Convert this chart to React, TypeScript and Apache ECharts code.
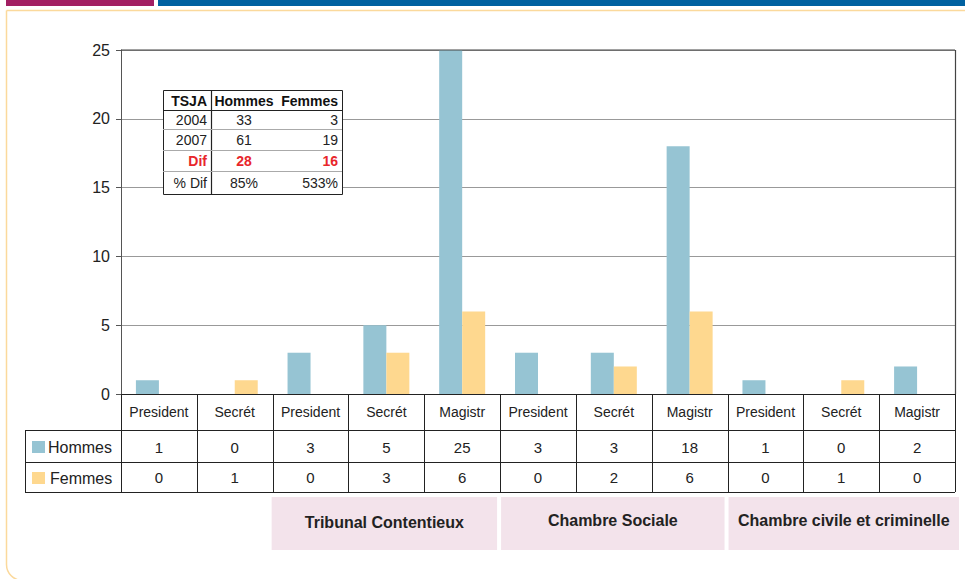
import React, { useEffect, useRef } from "react";
import * as echarts from "echarts";

const categories = ["President", "Secrét", "President", "Secrét", "Magistr", "President", "Secrét", "Magistr", "President", "Secrét", "Magistr"];
const hommes = [1, 0, 3, 5, 25, 3, 3, 18, 1, 0, 2];
const femmes = [0, 1, 0, 3, 6, 0, 2, 6, 0, 1, 0];
const seriesNames = ["Hommes", "Femmes"];
const yMax = 25;
const yInterval = 5;
const groupNames = ["Tribunal Contentieux", "Chambre Sociale", "Chambre civile et criminelle"];
const groupSpans = [[2, 4], [5, 7], [8, 10]];
const insetHeader = ["TSJA", "Hommes", "Femmes"];
const insetRows = [
  ["2004", "33", "3"],
  ["2007", "61", "19"],
  ["Dif", "28", "16"],
  ["% Dif", "85%", "533%"],
];

const BLUE = "#96C4D3";
const ORANGE = "#FED88F";
const FONT = "'Liberation Sans Narrow', 'Arial Narrow', 'Liberation Sans', Arial, sans-serif";
const W = 965;
const H = 579;
const GL = 121;
const GR = 955;
const GT = 50;
const GB = 394;

export default function App() {
  const ref = useRef<HTMLDivElement>(null);
  useEffect(() => {
    if (!ref.current) return;
    const chart = echarts.init(ref.current, null, { renderer: "svg", width: W, height: H });
    const n = categories.length;
    const step = (GR - GL) / n;
    const xb = (i: number) => GL + i * step;
    const row1B = 430;
    const row2B = 462;
    const row3B = 492;
    const legL = 25;
    const g: any[] = [];
    // top bands
    g.push({ type: "rect", shape: { x: 6, y: 0, width: 148, height: 6 }, style: { fill: "#A21F63" } });
    g.push({ type: "rect", shape: { x: 158, y: 0, width: W - 158, height: 6 }, style: { fill: "#0061A0" } });
    // orange frame
    g.push({ type: "rect", shape: { x: 6.5, y: 10.5, width: W + 20, height: 570, r: [0, 0, 0, 16] }, style: { fill: "none", stroke: "#FBD99C", lineWidth: 1.5 } });
    // top dark line at max + right border
    g.push({ type: "line", shape: { x1: GL, y1: GT, x2: GR, y2: GT }, style: { stroke: "#444", lineWidth: 1.2 }, z: 5 });
    g.push({ type: "line", shape: { x1: GR + 0.5, y1: GT, x2: GR + 0.5, y2: GB }, style: { stroke: "#444", lineWidth: 1.2 }, z: 5 });
    // table lines
    const ln = (x1: number, y1: number, x2: number, y2: number, c = "#222") =>
      g.push({ type: "line", shape: { x1, y1, x2, y2 }, style: { stroke: c, lineWidth: 1 }, z: 5 });
    for (let i = 0; i <= n; i++) ln(Math.round(xb(i)) + 0.5, GB, Math.round(xb(i)) + 0.5, row3B);
    ln(legL + 0.5, row1B, legL + 0.5, row3B);
    ln(legL, row1B + 0.5, GR, row1B + 0.5);
    ln(legL, row2B + 0.5, GR, row2B + 0.5);
    ln(legL, row3B + 0.5, GR, row3B + 0.5);
    // legend keys
    g.push({ type: "rect", shape: { x: 32, y: 441, width: 13, height: 12 }, style: { fill: BLUE } });
    g.push({ type: "text", x: 48, y: 447, style: { text: seriesNames[0], font: `16px ${FONT}`, fill: "#222", verticalAlign: "middle" } });
    g.push({ type: "rect", shape: { x: 32, y: 472, width: 13, height: 12 }, style: { fill: ORANGE } });
    g.push({ type: "text", x: 50, y: 478, style: { text: seriesNames[1], font: `16px ${FONT}`, fill: "#222", verticalAlign: "middle" } });
    // values
    for (let i = 0; i < n; i++) {
      const cx = xb(i) + step / 2;
      g.push({ type: "text", x: cx, y: 447, style: { text: String(hommes[i]), font: `15px ${FONT}`, fill: "#222", align: "center", verticalAlign: "middle" } });
      g.push({ type: "text", x: cx, y: 477, style: { text: String(femmes[i]), font: `15px ${FONT}`, fill: "#222", align: "center", verticalAlign: "middle" } });
    }
    // group boxes
    groupSpans.forEach((s, k) => {
      const x1 = xb(s[0]) + (k === 0 ? -1 : 1);
      const x2 = k === groupSpans.length - 1 ? GR + 4 : xb(s[1] + 1) - 3;
      g.push({ type: "rect", shape: { x: x1, y: 497, width: x2 - x1, height: 53 }, style: { fill: "#F3E3EB" } });
      g.push({ type: "text", x: (x1 + x2) / 2, y: k === 0 ? 522 : 520, style: { text: groupNames[k], font: `bold 16px ${FONT}`, fill: "#222", align: "center", verticalAlign: "middle" } });
    });
    // inset table
    const tL = 163, tR = 342, tT = 90, tB = 194;
    const rowY = [90, 110, 129, 150, 171, 194];
    g.push({ type: "rect", shape: { x: tL + 0.5, y: tT + 0.5, width: tR - tL, height: tB - tT }, style: { fill: "#fff", stroke: "#222", lineWidth: 1 }, z: 6 });
    g.push({ type: "line", shape: { x1: 211.5, y1: tT, x2: 211.5, y2: tB }, style: { stroke: "#222", lineWidth: 1.2 }, z: 7 });
    g.push({ type: "line", shape: { x1: tL, y1: 110.5, x2: tR, y2: 110.5 }, style: { stroke: "#222", lineWidth: 1.2 }, z: 7 });
    for (let r = 2; r < 5; r++) g.push({ type: "line", shape: { x1: tL, y1: rowY[r] + 0.5, x2: tR, y2: rowY[r] + 0.5 }, style: { stroke: "#aaa", lineWidth: 1 }, z: 7 });
    const colX = [207, 244, 338];
    const colAlign = ["right", "center", "right"];
    insetHeader.forEach((t, c) => {
      g.push({ type: "text", x: colX[c], y: 100.5, z: 8, style: { text: t, font: `bold 14px ${FONT}`, fill: "#111", align: colAlign[c], verticalAlign: "middle" } });
    });
    insetRows.forEach((row, r) => {
      const cy = (rowY[r + 1] + rowY[r + 2]) / 2 + 0.5;
      const red = row[0] === "Dif";
      row.forEach((t, c) => {
        g.push({ type: "text", x: colX[c], y: cy, z: 8, style: { text: t, font: `${red ? "bold " : ""}14px ${FONT}`, fill: red ? "#E8262B" : "#222", align: colAlign[c], verticalAlign: "middle" } });
      });
    });

    chart.setOption({
      animation: false,
      grid: { left: GL, right: W - GR, top: GT, bottom: H - GB, containLabel: false },
      xAxis: {
        type: "category",
        data: categories,
        axisLine: { lineStyle: { color: "#222", width: 1 } },
        axisTick: { show: false },
        axisLabel: { interval: 0, margin: 11, fontSize: 14, color: "#222", fontFamily: FONT },
      },
      yAxis: {
        type: "value",
        min: 0,
        max: yMax,
        interval: yInterval,
        axisLine: { show: true, lineStyle: { color: "#555" } },
        axisTick: { show: true, length: 5, lineStyle: { color: "#555" } },
        axisLabel: { fontSize: 16, color: "#222", margin: 11, fontFamily: FONT },
        splitLine: { lineStyle: { color: "#999", width: 1 } },
      },
      series: [
        { name: seriesNames[0], type: "bar", data: hommes, barWidth: 23, barGap: "0%", itemStyle: { color: BLUE } },
        { name: seriesNames[1], type: "bar", data: femmes, barWidth: 23, barGap: "0%", itemStyle: { color: ORANGE } },
      ],
      graphic: g,
    });
    return () => chart.dispose();
  }, []);
  return <div ref={ref} style={{ position: "absolute", left: 0, top: 0, width: W, height: H, background: "#fff" }} />;
}
